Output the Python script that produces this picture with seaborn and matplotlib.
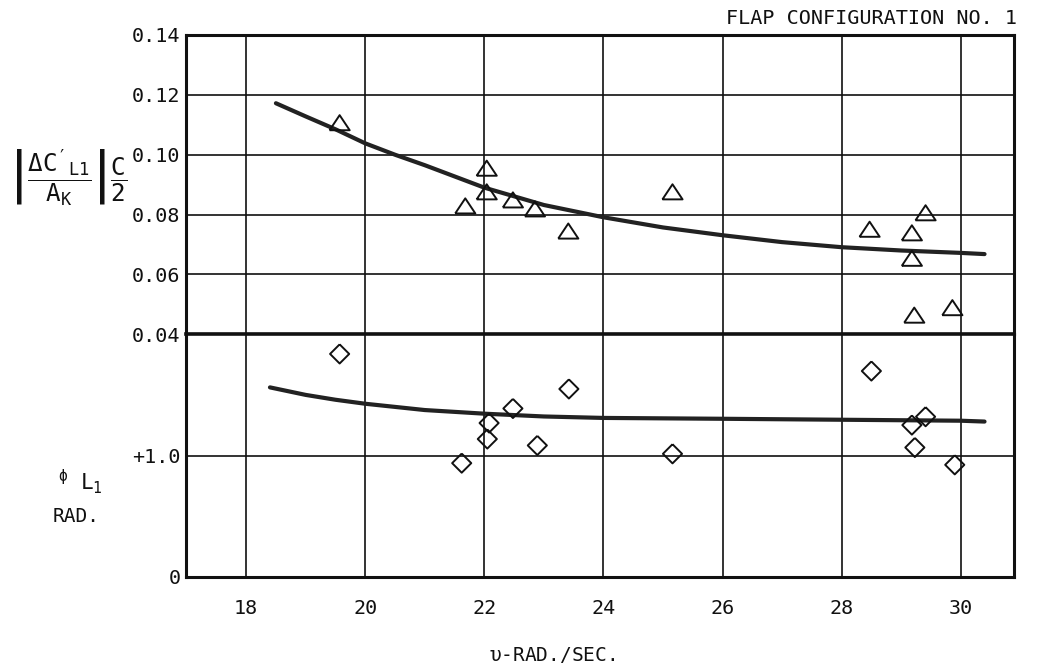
import matplotlib
matplotlib.use("Agg")
import matplotlib.pyplot as plt
import seaborn as sns
import numpy as np
import pandas as pd

# ---- data ----
tri_x = [19.57, 21.68, 22.04, 22.04, 22.48, 22.85, 23.41, 25.16, 28.47, 29.18, 29.18, 29.41, 29.22, 29.86]
tri_y = [0.1107, 0.0829, 0.0955, 0.0876, 0.0849, 0.0819, 0.0745, 0.0876, 0.0751, 0.0739, 0.0654, 0.0806, 0.0464, 0.0489]

amp_curve_x = [18.5, 19.0, 19.5, 20.0, 20.5, 21.0, 22.0, 23.0, 24.0, 25.0, 26.0, 27.0, 28.0, 29.0, 30.0, 30.4]
amp_curve_y = [0.1172, 0.1128, 0.1085, 0.1038, 0.1000, 0.0965, 0.0890, 0.0832, 0.0791, 0.0757, 0.0731, 0.0708, 0.0691, 0.0680, 0.0672, 0.0668]

dia_x = [19.57, 21.62, 22.05, 22.08, 22.48, 22.89, 23.42, 25.16, 28.50, 29.18, 29.41, 29.23, 29.90]
dia_y = [1.838, 0.937, 1.136, 1.268, 1.388, 1.083, 1.549, 1.014, 1.697, 1.251, 1.320, 1.066, 0.923]

ph_curve_x = [18.4, 19.0, 19.5, 20.0, 21.0, 22.0, 23.0, 24.0, 26.0, 28.0, 30.0, 30.4]
ph_curve_y = [1.562, 1.500, 1.460, 1.427, 1.375, 1.345, 1.322, 1.310, 1.303, 1.295, 1.287, 1.280]

x_ticks = [18, 20, 22, 24, 26, 28, 30]
amp_ticks = [0.04, 0.06, 0.08, 0.10, 0.12, 0.14]
amp_labels = ["0.04", "0.06", "0.08", "0.10", "0.12", "0.14"]
ph_ticks = [0.0, 1.0]
ph_labels = ["0", "+1.0"]

title = "FLAP CONFIGURATION NO. 1"

# ---- style ----
sns.set_theme(style="white")
plt.rcParams["font.family"] = ["DejaVu Sans Mono", "DejaVu Sans"]
plt.rcParams["mathtext.default"] = "regular"

W, H = 1038, 672
fig = plt.figure(figsize=(W / 100, H / 100), dpi=100)
fig.patch.set_facecolor("white")

L, R = 186 / W, 1014.3 / W
top_px, mid_px, bot_px = 35, 334.3, 576.7
ax_top = fig.add_axes([L, 1 - mid_px / H, R - L, (mid_px - top_px) / H])
ax_bot = fig.add_axes([L, 1 - bot_px / H, R - L, (bot_px - mid_px) / H])

INK = "#111111"
CURVE = "#222222"

for ax in (ax_top, ax_bot):
    ax.set_xlim(16.99, 30.9)
    ax.set_xticks(x_ticks)
    for s in ax.spines.values():
        s.set_visible(True)
        s.set_color(INK)
        s.set_linewidth(2.2)
    ax.tick_params(length=0, labelsize=14.5, colors=INK)
    ax.grid(True, color=INK, linewidth=1.2)
    ax.set_axisbelow(True)
    ax.set_facecolor("white")

# upper panel
ax_top.set_ylim(0.04, 0.14)
ax_top.set_yticks(amp_ticks)
ax_top.set_yticklabels(amp_labels)
ax_top.tick_params(axis="x", labelbottom=False)
ax_top.tick_params(axis="y", pad=4)

tri_marker = [(-1.0, -0.75), (1.0, -0.75), (0.0, 0.75), (-1.0, -0.75)]
sns.lineplot(x=amp_curve_x, y=amp_curve_y, ax=ax_top, color=CURVE, linewidth=3.0, sort=False)
sns.scatterplot(x=tri_x, y=tri_y, ax=ax_top, marker=tri_marker, s=210,
                facecolor="none", edgecolor=INK, linewidth=1.4, zorder=5)
ax_top.set_xlabel("")
ax_top.set_ylabel("")

# lower panel
ax_bot.set_ylim(0.0, 2.0)
ax_bot.set_yticks(ph_ticks)
ax_bot.set_yticklabels(ph_labels)
ax_bot.tick_params(axis="x", pad=16)
ax_bot.tick_params(axis="y", pad=4)
ax_bot.spines["top"].set_linewidth(2.6)

dia_marker = [(0.0, 1.0), (1.0, 0.0), (0.0, -1.0), (-1.0, 0.0), (0.0, 1.0)]
sns.lineplot(x=ph_curve_x, y=ph_curve_y, ax=ax_bot, color=CURVE, linewidth=3.0, sort=False)
sns.scatterplot(x=dia_x, y=dia_y, ax=ax_bot, marker=dia_marker, s=190,
                facecolor="none", edgecolor=INK, linewidth=1.4, zorder=5)
ax_bot.set_xlabel("")
ax_bot.set_ylabel("")

# texts
fig.text(1017 / W, 1 - 18 / H, title, ha="right", va="center", fontsize=14.5, color=INK)
fig.text(68 / W, 1 - 178 / H,
         r"$\left|\dfrac{\Delta C'_{L1}}{A_K}\right|\dfrac{C}{2}$",
         ha="center", va="center", fontsize=17.5, color=INK)
fig.text(80 / W, 1 - 482 / H, r"$^{\phi}$ L$_1$", ha="center", va="center", fontsize=15, color=INK)
fig.text(76 / W, 1 - 516 / H, "RAD.", ha="center", va="center", fontsize=14, color=INK)
fig.text(552 / W, 1 - 655 / H, r"$\upsilon$-RAD./SEC.", ha="center", va="center", fontsize=14, color=INK)

fig.savefig("out.png", dpi=100, facecolor="white")
